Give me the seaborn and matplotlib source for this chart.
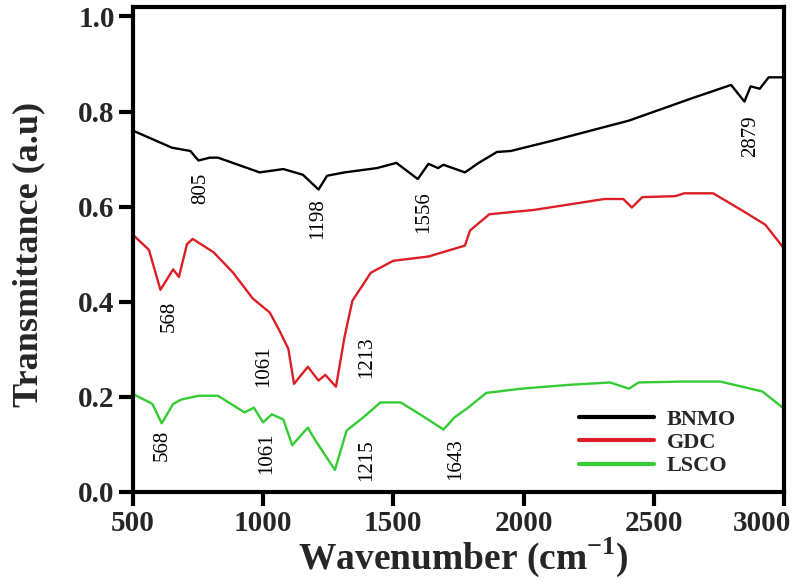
import matplotlib
matplotlib.use("Agg")
import matplotlib.pyplot as plt
import matplotlib.transforms as mtransforms
import seaborn as sns
import pandas as pd

# ---------------- data ----------------
bnmo_x = [500, 650, 721, 752, 796, 827, 987, 1078, 1153, 1213, 1246, 1313, 1437, 1512,
          1594, 1635, 1672, 1693, 1775, 1828, 1898, 1951, 2113, 2405, 2652, 2797, 2848,
          2872, 2907, 2941, 3000]
bnmo_y = [0.760, 0.724, 0.717, 0.697, 0.703, 0.703, 0.672, 0.679, 0.667, 0.636, 0.665,
          0.672, 0.681, 0.692, 0.658, 0.690, 0.681, 0.688, 0.672, 0.692, 0.715, 0.717,
          0.739, 0.781, 0.829, 0.856, 0.821, 0.853, 0.848, 0.872, 0.872]

gdc_x = [500, 562, 606, 655, 677, 708, 730, 810, 885, 960, 1026, 1063, 1097, 1119, 1172,
         1213, 1239, 1280, 1313, 1343, 1414, 1500, 1635, 1775, 1795, 1869, 2040, 2310,
         2383, 2416, 2456, 2583, 2617, 2728, 2848, 2928, 3000]
gdc_y = [0.541, 0.509, 0.425, 0.468, 0.452, 0.521, 0.532, 0.504, 0.461, 0.407, 0.377,
         0.339, 0.301, 0.227, 0.263, 0.234, 0.246, 0.221, 0.326, 0.402, 0.461, 0.486,
         0.495, 0.518, 0.550, 0.584, 0.593, 0.616, 0.616, 0.598, 0.620, 0.622, 0.628,
         0.628, 0.589, 0.562, 0.512]

lsco_x = [500, 575, 611, 655, 686, 752, 827, 929, 965, 1000, 1034, 1078, 1112, 1172,
          1201, 1276, 1321, 1388, 1451, 1529, 1611, 1693, 1734, 1787, 1857, 1992, 2175,
          2332, 2405, 2442, 2617, 2755, 2917, 3000]
lsco_y = [0.206, 0.185, 0.144, 0.185, 0.194, 0.202, 0.202, 0.167, 0.177, 0.146, 0.163,
          0.152, 0.098, 0.135, 0.108, 0.046, 0.129, 0.158, 0.188, 0.188, 0.160, 0.131,
          0.156, 0.177, 0.208, 0.217, 0.225, 0.230, 0.217, 0.230, 0.232, 0.232, 0.211,
          0.175]

series_names = ["BNMO", "GDC", "LSCO"]
series_colors = ["#000000", "#dc1f26", "#33cc33"]

# peak labels: (text, x, y)
peak_labels = [
    ("805", 761, 0.638), ("1198", 1209, 0.575), ("1556", 1615, 0.589), ("2879", 2872, 0.748),
    ("568", 641, 0.370), ("1061", 1004, 0.265), ("1213", 1399, 0.284),
    ("568", 611, 0.098), ("1061", 1015, 0.081), ("1215", 1399, 0.067), ("1643", 1738, 0.069),
]

x_ticks = [500, 1000, 1500, 2000, 2500, 3000]
y_ticks = [0.0, 0.2, 0.4, 0.6, 0.8, 1.0]

# ---------------- plotting ----------------
sns.set_style("white")
plt.rcParams["font.family"] = ["Liberation Serif", "DejaVu Serif"]
plt.rcParams["mathtext.fontset"] = "custom"
plt.rcParams["mathtext.bf"] = "Liberation Serif:bold"
plt.rcParams["mathtext.rm"] = "Liberation Serif"

fig = plt.figure(figsize=(8, 5.82), dpi=100)
ax = fig.add_axes([0.166, 0.155, 0.814, 0.833])

frames = [
    pd.DataFrame({"wn": bnmo_x, "T": bnmo_y, "sample": "BNMO"}),
    pd.DataFrame({"wn": gdc_x, "T": gdc_y, "sample": "GDC"}),
    pd.DataFrame({"wn": lsco_x, "T": lsco_y, "sample": "LSCO"}),
]
df = pd.concat(frames, ignore_index=True)

sns.lineplot(data=df, x="wn", y="T", hue="sample", hue_order=series_names,
             palette=dict(zip(series_names, series_colors)), linewidth=1.7,
             sort=False, estimator=None, ax=ax)

for txt, xx, yy in peak_labels:
    ax.text(xx, yy, txt, rotation=90, ha="center", va="center", fontsize=15,
            color="black")

ax.set_xlim(500, 3000)
ax.set_ylim(0, 1.02)
ax.set_xticks(x_ticks)
ax.set_yticks(y_ticks)
ax.set_xticklabels([str(t) for t in x_ticks], fontsize=21, fontweight="bold")
ax.set_yticklabels([f"{t:.1f}" for t in y_ticks], fontsize=21, fontweight="bold")
ax.tick_params(axis="both", direction="out", length=10, width=3, color="black",
               left=True, bottom=True, pad=3)

# last x tick label sits left of its tick in the reference
last = ax.get_xticklabels()[-1]
last.set_transform(last.get_transform() +
                   mtransforms.ScaledTranslation(-0.22, 0, fig.dpi_scale_trans))

for side in ["left", "bottom", "top", "right"]:
    ax.spines[side].set_visible(True)
    ax.spines[side].set_color("black")
    ax.spines[side].set_linewidth(3)

ax.set_xlabel("Wavenumber (cm$^{\\mathbf{-1}}$)", fontsize=27, fontweight="bold")
ax.set_ylabel("Transmittance (a.u)", fontsize=26, fontweight="bold")
ax.xaxis.set_label_coords(0.507, -0.09)
ax.yaxis.set_label_coords(-0.135, 0.49)

leg = ax.legend(loc="upper left", bbox_to_anchor=(0.685, 0.17), frameon=False,
                borderpad=0, borderaxespad=0,
                handlelength=3.4, handletextpad=0.55, labelspacing=0.12,
                prop={"family": "Liberation Serif", "weight": "bold", "size": 16})
for line in leg.get_lines():
    line.set_linewidth(3)

fig.savefig("out.png", dpi=100)
